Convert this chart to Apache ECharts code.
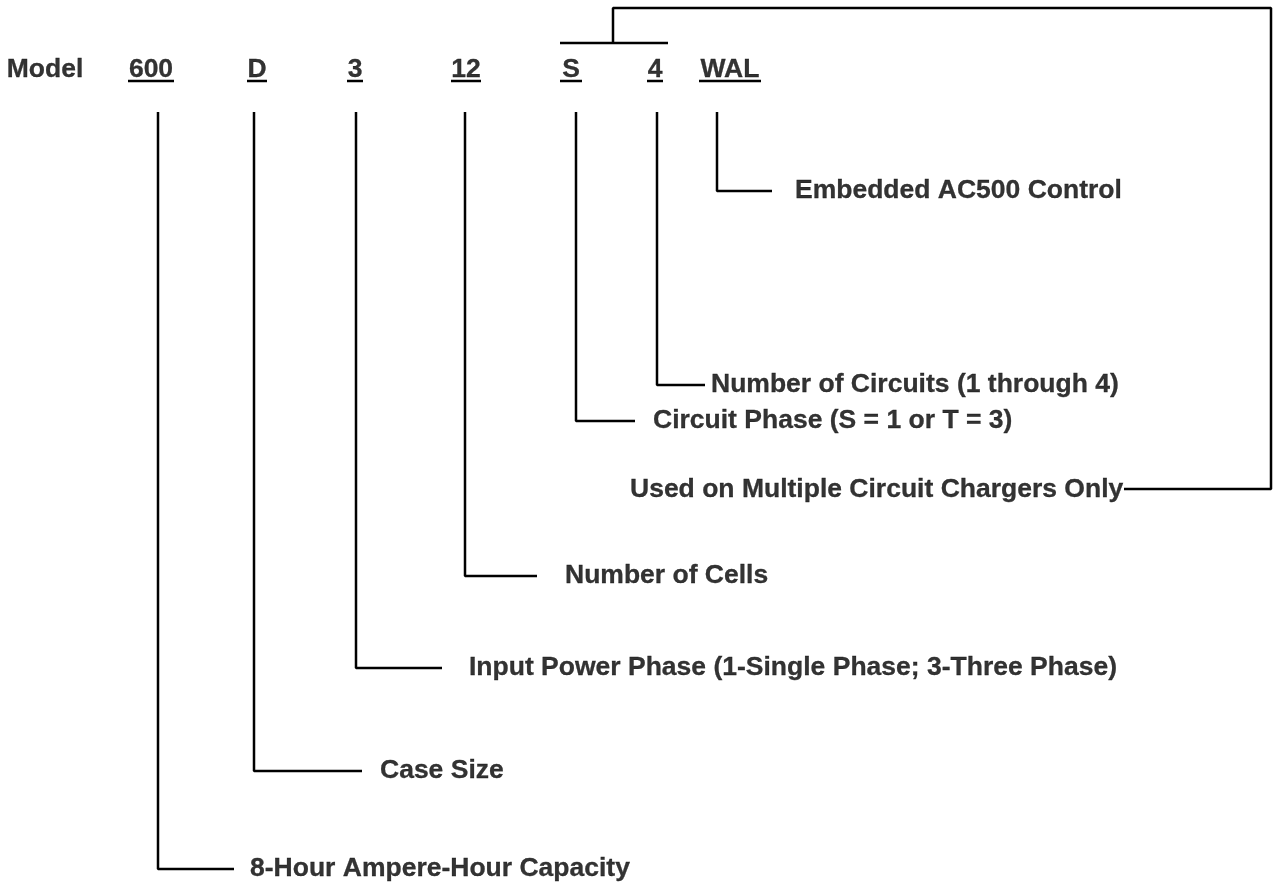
<!DOCTYPE html>
<html>
<head>
<meta charset="utf-8">
<title>Model code breakdown</title>
<script src="https://cdn.jsdelivr.net/npm/echarts@6/dist/echarts.min.js"></script>
<style>
  html, body { margin: 0; padding: 0; background: #fff; }
  #chart { width: 1275px; height: 882px; }
</style>
</head>
<body>
<div id="chart"></div>
<script>
// code segments of the model number, left to right
const codes = ['600', 'D', '3', '12', 'S', '4', 'WAL'];
const codeX = [151, 257, 355, 466, 571, 655, 730];
const codeHalfWidth = [23, 10, 8, 15, 11, 8, 31];
const descriptions = [
  '8-Hour Ampere-Hour Capacity',
  'Case Size',
  'Input Power Phase (1-Single Phase; 3-Three Phase)',
  'Number of Cells',
  'Circuit Phase (S = 1 or T = 3)',
  'Number of Circuits (1 through 4)',
  'Embedded AC500 Control'
];
// leader lines: stem x, elbow y, end of the horizontal tick, label start
const stemX = [158, 254, 356, 465, 576, 657, 717];
const elbowY = [869, 771, 668, 576, 421, 385, 191];
const tickEndX = [234, 362, 442, 537, 635, 705, 772];
const descX = [250, 380, 469, 565, 653, 711, 795];

const headerY = 70;
const underlineY = 81;
const stemTopY = 112;
const modelX = 45;

// bracket joining S and 4
const bracketNote = 'Used on Multiple Circuit Chargers Only';
const bracketBar = [[560, 43], [668, 43]];
const bracketPath = [[613, 43], [613, 8], [1271, 8], [1271, 489], [1124, 489]];
const bracketNoteAt = [630, 490];

const FONT = '"Liberation Sans", Arial, sans-serif';
const lineStyle = { color: '#000', width: 2.5 };
const textStyle = {
  color: '#000',
  fontFamily: FONT,
  fontWeight: 'bold',
  fontSize: 26.5,
  textBorderColor: '#000',
  textBorderWidth: 0.3
};

const chart = echarts.init(document.getElementById('chart'));

function seg(points) {
  return {
    type: 'line',
    data: points,
    symbol: 'none',
    lineStyle: lineStyle,
    silent: true,
    animation: false
  };
}

const series = [];

codes.forEach((c, i) => {
  // underline below the code
  series.push(seg([[codeX[i] - codeHalfWidth[i], underlineY], [codeX[i] + codeHalfWidth[i], underlineY]]));
  // stem + elbow
  series.push(seg([[stemX[i], stemTopY], [stemX[i], elbowY[i]], [tickEndX[i], elbowY[i]]]));
});
series.push(seg(bracketBar));
series.push(seg(bracketPath));

// header codes
series.push({
  type: 'scatter',
  symbolSize: 0,
  silent: true,
  animation: false,
  data: [[modelX, headerY, 'Model']].concat(codes.map((c, i) => [codeX[i], headerY, c])),
  label: Object.assign({
    show: true,
    position: 'inside',
    formatter: p => p.value[2]
  }, textStyle)
});

// descriptions
series.push({
  type: 'scatter',
  symbolSize: 0,
  silent: true,
  animation: false,
  data: descriptions.map((d, i) => [descX[i], elbowY[i], d]).concat([[bracketNoteAt[0], bracketNoteAt[1], bracketNote]]),
  label: Object.assign({
    show: true,
    position: 'inside',
    align: 'left',
    formatter: p => p.value[2]
  }, textStyle)
});

chart.setOption({
  animation: false,
  backgroundColor: '#fff',
  grid: { left: 0, right: 0, top: 0, bottom: 0 },
  xAxis: { type: 'value', min: 0, max: 1275, show: false },
  yAxis: { type: 'value', min: 0, max: 882, inverse: true, show: false },
  series: series
});
</script>
</body>
</html>
